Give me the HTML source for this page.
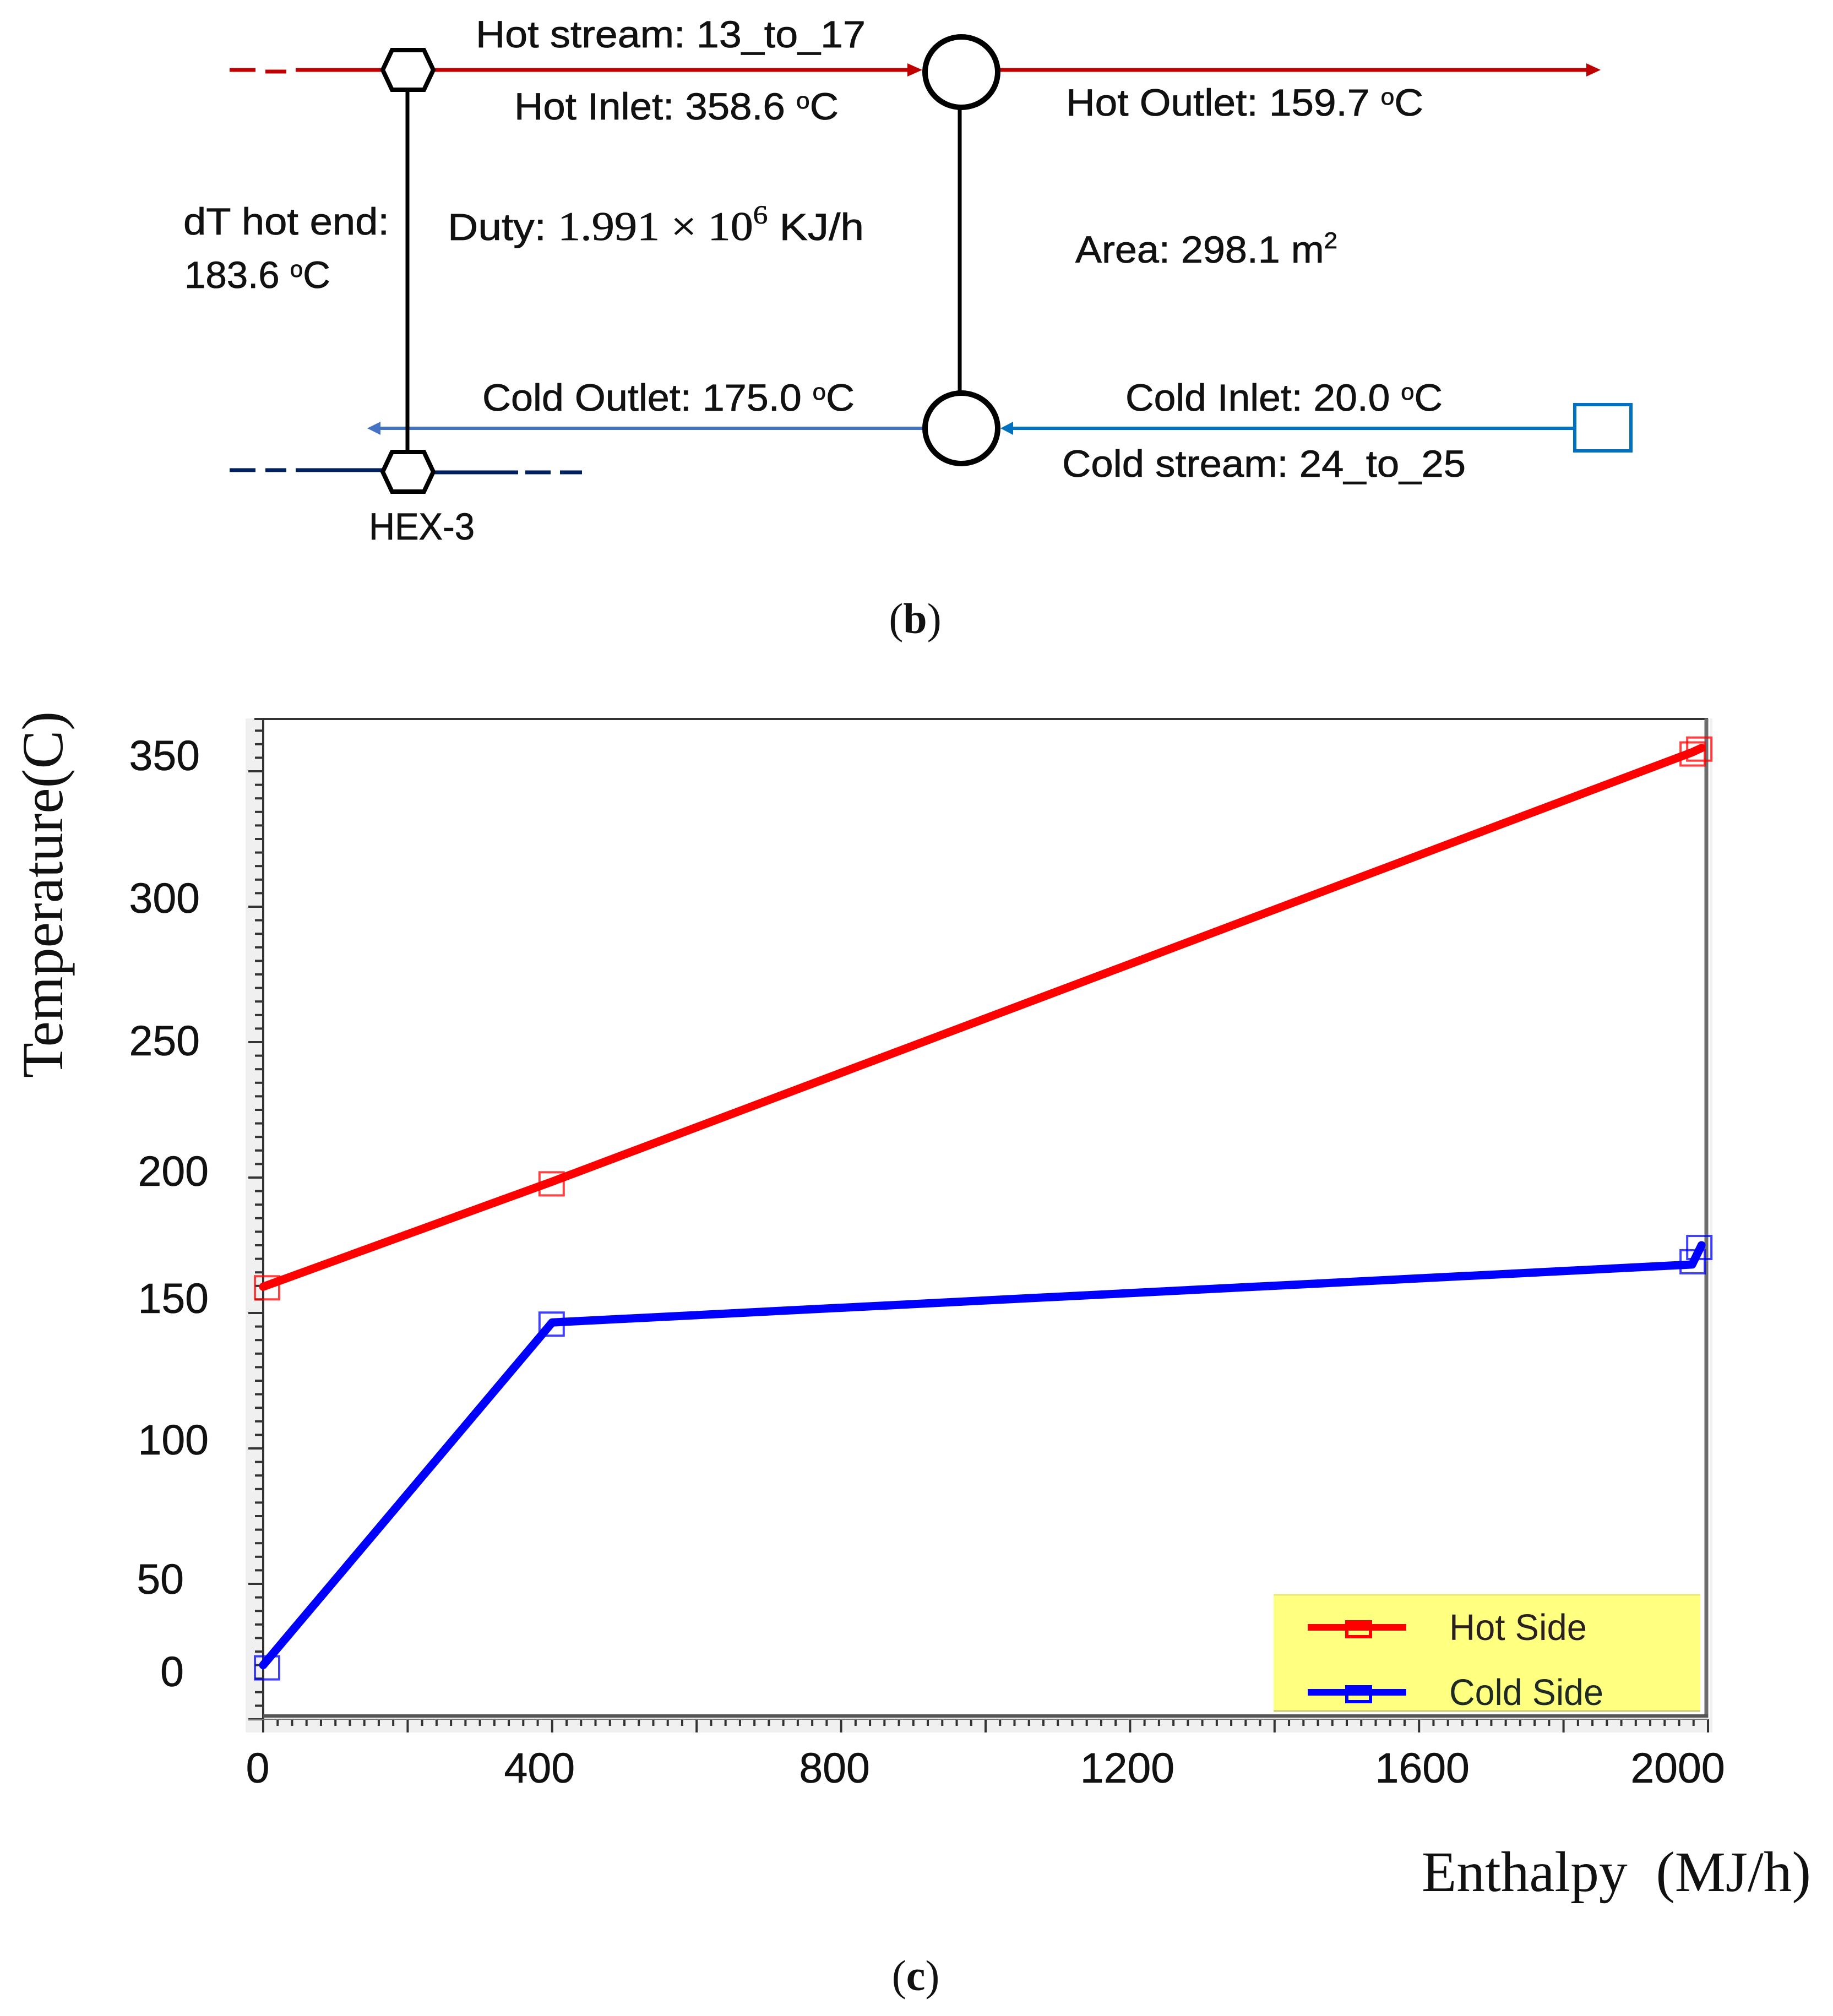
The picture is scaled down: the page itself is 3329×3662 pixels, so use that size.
<!DOCTYPE html>
<html lang="en">
<head>
<meta charset="utf-8">
<title>Heat exchanger diagram and T-H chart</title>
<style>
html,body{margin:0;padding:0;background:#fff;}
svg{display:block;}
.lbl{font-family:"Liberation Sans",sans-serif;font-size:69px;fill:#111;stroke:#111;stroke-width:0.8px;}
.serif{font-family:"Liberation Serif",serif;fill:#111;}
.tick{font-family:"Liberation Sans",sans-serif;font-size:77px;fill:#111;stroke:#111;stroke-width:0.6px;}
</style>
</head>
<body>
<svg id="root" xmlns="http://www.w3.org/2000/svg" width="3329" height="3662" viewBox="0 0 3329 3662">
  <rect x="0" y="0" width="3329" height="3662" fill="#fff"/>

  <g>
    <g stroke="#c00000" stroke-width="7" fill="none">
      <line x1="417" y1="127" x2="464" y2="127"/>
      <line x1="482" y1="130" x2="520" y2="130"/>
      <line x1="537" y1="127" x2="1650" y2="127"/>
      <line x1="1815" y1="127" x2="2885" y2="127"/>
    </g>
    <polygon points="1648,115 1675,127 1648,139" fill="#c00000"/>
    <polygon points="2881,115 2907,127 2881,139" fill="#c00000"/>

    <g fill="none" stroke-width="6">
      <line x1="688" y1="778" x2="1680" y2="778" stroke="#4472c4"/>
      <line x1="1835" y1="778" x2="2857" y2="778" stroke="#0070c0"/>
    </g>
    <polygon points="691,766 667,778 691,790" fill="#4472c4"/>
    <polygon points="1840,766 1817,778 1840,790" fill="#0070c0"/>

    <g stroke="#002060" stroke-width="7" fill="none">
      <line x1="417" y1="854" x2="464" y2="854"/>
      <line x1="482" y1="854" x2="520" y2="854"/>
      <line x1="537" y1="854" x2="694" y2="854"/>
      <line x1="788" y1="858" x2="941" y2="858"/>
      <line x1="954" y1="858" x2="1000" y2="858"/>
      <line x1="1017" y1="858" x2="1057" y2="858"/>
    </g>

    <line x1="740" y1="165" x2="740" y2="819" stroke="#000" stroke-width="7"/>
    <line x1="1743" y1="198" x2="1743" y2="712" stroke="#000" stroke-width="7"/>

    <polygon points="695,127 712,91 770,91 787,127 770,163 712,163" fill="#fff" stroke="#000" stroke-width="8"/>
    <polygon points="695,857 712,821 770,821 787,857 770,893 712,893" fill="#fff" stroke="#000" stroke-width="8"/>
    <ellipse cx="1746" cy="131" rx="66" ry="64" fill="#fff" stroke="#000" stroke-width="10"/>
    <ellipse cx="1746" cy="778" rx="66" ry="64" fill="#fff" stroke="#000" stroke-width="10"/>
    <rect x="2860" y="735" width="102" height="84" fill="#fff" stroke="#0070c0" stroke-width="6"/>

    <text class="lbl" x="864" y="86" textLength="708" lengthAdjust="spacingAndGlyphs">Hot stream: 13_to_17</text>
    <text class="lbl" x="934" y="217" textLength="589" lengthAdjust="spacingAndGlyphs">Hot Inlet: 358.6 <tspan font-size="42" dy="-20">o</tspan><tspan dy="20">C</tspan></text>
    <text class="lbl" x="1936" y="210" textLength="649" lengthAdjust="spacingAndGlyphs">Hot Outlet: 159.7 <tspan font-size="42" dy="-20">o</tspan><tspan dy="20">C</tspan></text>
    <text class="lbl" x="333" y="426" textLength="374" lengthAdjust="spacingAndGlyphs">dT hot end:</text>
    <text class="lbl" x="335" y="523" textLength="265" lengthAdjust="spacingAndGlyphs">183.6 <tspan font-size="42" dy="-20">o</tspan><tspan dy="20">C</tspan></text>
    <text class="lbl" x="813" y="436" textLength="756" lengthAdjust="spacingAndGlyphs">Duty: <tspan font-family="Liberation Serif, serif" font-size="74">1.991 × 10</tspan><tspan font-family="Liberation Serif, serif" font-size="48" dy="-30">6</tspan><tspan dy="30"> KJ/h</tspan></text>
    <text class="lbl" x="1953" y="477" textLength="476" lengthAdjust="spacingAndGlyphs">Area: 298.1 m<tspan font-size="42" dy="-26">2</tspan></text>
    <text class="lbl" x="876" y="746" textLength="676" lengthAdjust="spacingAndGlyphs">Cold Outlet: 175.0 <tspan font-size="42" dy="-20">o</tspan><tspan dy="20">C</tspan></text>
    <text class="lbl" x="2044" y="746" textLength="576" lengthAdjust="spacingAndGlyphs">Cold Inlet: 20.0 <tspan font-size="42" dy="-20">o</tspan><tspan dy="20">C</tspan></text>
    <text class="lbl" x="1929" y="866" textLength="733" lengthAdjust="spacingAndGlyphs">Cold stream: 24_to_25</text>
    <text class="lbl" x="670" y="980" textLength="192" lengthAdjust="spacingAndGlyphs">HEX-3</text>
    <text class="serif" x="1662" y="1150" font-size="78" text-anchor="middle">(<tspan font-weight="bold">b</tspan>)</text>
  </g>

  <g id="chart">
    <rect x="446" y="1305" width="32" height="1842" fill="#f0f0f0"/>
    <rect x="446" y="3120" width="2660" height="27" fill="#f0f0f0"/>
    <rect x="3106" y="1305" width="4" height="1842" fill="#f0f0f0"/>
    <g id="ticks"></g>
    <line x1="462" y1="1306" x2="3102" y2="1306" stroke="#333" stroke-width="4"/>
    <line x1="3099" y1="1305" x2="3099" y2="3120" stroke="#6d6d6d" stroke-width="7"/>
    <line x1="478" y1="1305" x2="478" y2="3147" stroke="#333" stroke-width="4"/>
    <line x1="478" y1="3117" x2="3102" y2="3117" stroke="#555" stroke-width="6"/>
    <line x1="451" y1="3123" x2="3102" y2="3123" stroke="#777" stroke-width="2"/>

    <g id="series"></g>

    <g>
      <rect x="2313" y="2896" width="775" height="213" fill="#ffff80"/>
      <line x1="2313" y1="2897" x2="3088" y2="2897" stroke="#e8e878" stroke-width="3"/>
      <line x1="2313" y1="3108" x2="3088" y2="3108" stroke="#c8c878" stroke-width="3"/>
      <line x1="2375" y1="2956" x2="2554" y2="2956" stroke="#f00" stroke-width="12"/>
      <rect x="2443" y="2943" width="49" height="15" fill="#f00"/>
      <rect x="2446" y="2946" width="43" height="27" fill="none" stroke="#f00" stroke-width="6"/>
      <text x="2632" y="2979" font-family="Liberation Sans, sans-serif" font-size="67" fill="#2a2020" textLength="250" lengthAdjust="spacingAndGlyphs">Hot Side</text>
      <line x1="2375" y1="3074" x2="2554" y2="3074" stroke="#00f" stroke-width="12"/>
      <rect x="2443" y="3061" width="49" height="15" fill="#00f"/>
      <rect x="2446" y="3064" width="43" height="27" fill="none" stroke="#00f" stroke-width="6"/>
      <text x="2632" y="3097" font-family="Liberation Sans, sans-serif" font-size="67" fill="#1f2a22" textLength="280" lengthAdjust="spacingAndGlyphs">Cold Side</text>
    </g>

    <g id="tick-labels"></g>

    <text class="serif" transform="translate(113,1958) rotate(-90)" font-size="106" textLength="666" lengthAdjust="spacingAndGlyphs">Temperature(C)</text>
    <text class="serif" x="2582" y="3435" font-size="104" textLength="707" lengthAdjust="spacingAndGlyphs" xml:space="preserve">Enthalpy  (MJ/h)</text>
    <text class="serif" x="1663" y="3615" font-size="78" text-anchor="middle">(<tspan font-weight="bold">c</tspan>)</text>
  </g>
</svg>
<script>
// Chart data
const hotEnthalpy = [0, 400, 1978, 1991];
const hotTemperature = [159.7, 198.5, 357, 358.6];
const coldEnthalpy = [0, 400, 1978, 1991];
const coldTemperature = [20, 146.5, 167.9, 175];
const xTickLabels = [0, 400, 800, 1200, 1600, 2000];
const yTickLabels = [350, 300, 250, 200, 150, 100, 50, 0];

// Hand-placed label and marker offsets in the original figure (styling, not data)
const xLabelNudge = [-10, -23, -12, -5, 6, -55];
const yLabelNudgeX = [-115, -115, -115, -99, -99, -99, -144, -144];
const yLabelNudgeY = [-2, 11, 24, 15, 0, 11, 18, -60];
const markerNudgeX = [7, -1, 1, -4];
const hotMarkerNudgeY = [2, 4, 3, 2];
const coldMarkerNudgeY = [5, 3, -5, 4];

const NS = 'http://www.w3.org/2000/svg';
const xScale = v => 478 + v * 1.312;
const yScale = v => 3123 - v * 4.92;

function mk(tag, attrs, parent) {
  const el = document.createElementNS(NS, tag);
  for (const k in attrs) el.setAttribute(k, attrs[k]);
  parent.appendChild(el);
  return el;
}

const tickLayer = document.getElementById('ticks');
const labelLayer = document.getElementById('tick-labels');
const seriesLayer = document.getElementById('series');

// Y ticks every 5 units, major every 50
for (let v = 0; v <= 365; v += 5) {
  const major = v % 50 === 0;
  const t = mk('line', {x1: major ? 451 : 463, x2: 478, y1: yScale(v), y2: yScale(v), stroke: '#333', 'stroke-width': 4}, tickLayer);
  
  
}
// X ticks every 20 units, major every 200
for (let v = 0; v <= 2000; v += 20) {
  const major = v % 200 === 0;
  const t = mk('line', {x1: xScale(v), x2: xScale(v), y1: 3123, y2: major ? 3147 : 3135, stroke: '#333', 'stroke-width': 4}, tickLayer);
  
  
}

xTickLabels.forEach((v, i) => {
  const t = mk('text', {class: 'tick', x: xScale(v) + xLabelNudge[i], y: 3238, 'text-anchor': 'middle'}, labelLayer);
  
  
  t.textContent = v;
});
yTickLabels.forEach((v, i) => {
  const t = mk('text', {class: 'tick', x: 478 + yLabelNudgeX[i], y: yScale(v) + yLabelNudgeY[i], 'text-anchor': 'end'}, labelLayer);
  
  
  t.textContent = v;
});

function pointsOf(xs, ys) {
  return xs.map((x, i) => xScale(x) + ',' + yScale(ys[i])).join(' ');
}

const hotLine = mk('polyline', {points: pointsOf(hotEnthalpy, hotTemperature), fill: 'none', stroke: '#f00', 'stroke-width': 15, 'stroke-linecap': 'round', 'stroke-linejoin': 'round'}, seriesLayer);



const coldLine = mk('polyline', {points: pointsOf(coldEnthalpy, coldTemperature), fill: 'none', stroke: '#00f', 'stroke-width': 15, 'stroke-linecap': 'round', 'stroke-linejoin': 'round'}, seriesLayer);



hotEnthalpy.forEach((x, i) => {
  const m = mk('rect', {x: xScale(x) + markerNudgeX[i] - 22, y: yScale(hotTemperature[i]) + hotMarkerNudgeY[i] - 21, width: 44, height: 42, fill: 'none', stroke: '#f00', 'stroke-width': 4, 'stroke-opacity': 0.75}, seriesLayer);
  
  
});
coldEnthalpy.forEach((x, i) => {
  const m = mk('rect', {x: xScale(x) + markerNudgeX[i] - 22, y: yScale(coldTemperature[i]) + coldMarkerNudgeY[i] - 21, width: 44, height: 42, fill: 'none', stroke: '#00f', 'stroke-width': 4, 'stroke-opacity': 0.75}, seriesLayer);
  
  
});
</script>
</body>
</html>
